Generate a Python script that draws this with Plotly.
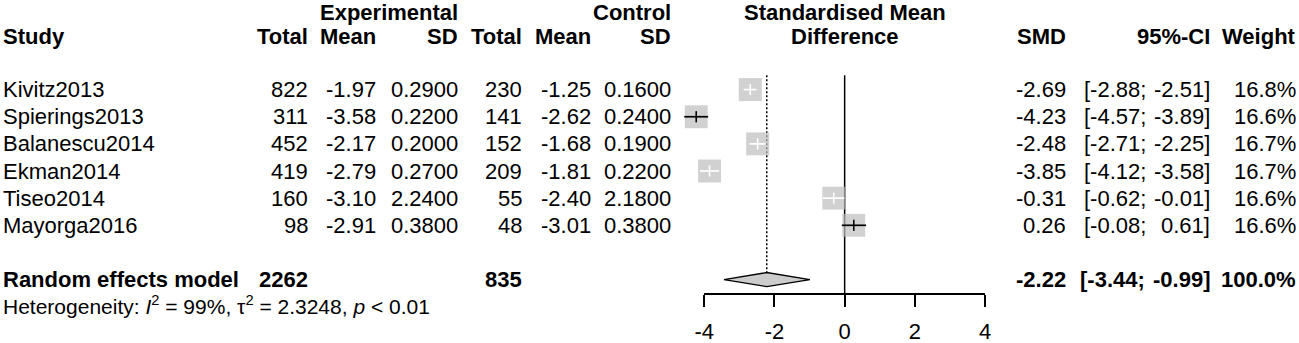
import plotly.graph_objects as go

# ---------------- data ----------------
studies = ["Kivitz2013", "Spierings2013", "Balanescu2014", "Ekman2014", "Tiseo2014", "Mayorga2016"]
exp_total = [822, 311, 452, 419, 160, 98]
exp_mean = [-1.97, -3.58, -2.17, -2.79, -3.10, -2.91]
exp_sd = [0.29, 0.22, 0.20, 0.27, 2.24, 0.38]
ctl_total = [230, 141, 152, 209, 55, 48]
ctl_mean = [-1.25, -2.62, -1.68, -1.81, -2.40, -3.01]
ctl_sd = [0.16, 0.24, 0.19, 0.22, 2.18, 0.38]
smd = [-2.69, -4.23, -2.48, -3.85, -0.31, 0.26]
ci_lo = [-2.88, -4.57, -2.71, -4.12, -0.62, -0.08]
ci_hi = [-2.51, -3.89, -2.25, -3.58, -0.01, 0.61]
weight = [16.8, 16.6, 16.7, 16.7, 16.6, 16.6]

pooled_label = "Random effects model"
pooled_exp_total = 2262
pooled_ctl_total = 835
pooled_smd = -2.22
pooled_lo = -3.44
pooled_hi = -0.99
pooled_weight = 100.0
het_i2 = "99%"
het_tau2 = "2.3248"
het_p = "&lt; 0.01"

axis_ticks = [-4, -2, 0, 2, 4]

# ---------------- layout geometry ----------------
W, H = 1299, 343
AX_L_PX, AX_R_PX = 704.3, 985.0
AX_MIN, AX_MAX = axis_ticks[0], axis_ticks[-1]
ppu = (AX_R_PX - AX_L_PX) / (AX_MAX - AX_MIN)
x_full = [AX_MIN - AX_L_PX / ppu, AX_MAX + (W - AX_R_PX) / ppu]

ROW1_PX, ROW_PX = 89.6, 27.14
y_range = [1 + (H - ROW1_PX) / ROW_PX, 1 - ROW1_PX / ROW_PX]
rows = [i + 1 for i in range(len(studies))]
ROW_POOL = len(studies) + 2
ROW_HET = ROW_POOL + 0.95
ROW_AXIS = ROW_POOL + 0.53
ROW_TOP = 0.47
ROW_H1, ROW_H2 = -1.85, -0.95
axis_pos = 1 - (ROW1_PX + (ROW_AXIS - 1) * ROW_PX) / H

FONT = "Liberation Sans, Arial, sans-serif"
FS = 22
BOX = 23
DIAM_H = 0.26

fig = go.Figure()

# reference lines
fig.add_trace(go.Scatter(x=[0, 0], y=[ROW_TOP, ROW_AXIS], mode="lines",
                         line=dict(color="black", width=1.5), hoverinfo="skip"))
fig.add_trace(go.Scatter(x=[pooled_smd, pooled_smd], y=[ROW_TOP, ROW_POOL - DIAM_H], mode="lines",
                         line=dict(color="black", width=1.5, dash="2px,2px"), hoverinfo="skip"))

# boxes
fig.add_trace(go.Scatter(x=smd, y=rows, mode="markers",
                         marker=dict(symbol="square", size=[BOX * (w / max(weight)) ** 0.5 for w in weight],
                                     color="#BDBDBD", line=dict(width=0)),
                         hoverinfo="skip"))

# CI lines + centre ticks
for e, lo, hi, r in zip(smd, ci_lo, ci_hi, rows):
    col = "white" if (hi - lo) < 22 / ppu else "black"
    fig.add_trace(go.Scatter(x=[lo, hi], y=[r, r], mode="lines",
                             line=dict(color=col, width=1.7), hoverinfo="skip"))
    fig.add_trace(go.Scatter(x=[e], y=[r], mode="markers",
                             marker=dict(symbol="line-ns", size=8, line=dict(color=col, width=1.6)),
                             hoverinfo="skip"))

# diamond
fig.add_trace(go.Scatter(x=[pooled_lo, pooled_smd, pooled_hi, pooled_smd, pooled_lo],
                         y=[ROW_POOL, ROW_POOL - DIAM_H, ROW_POOL, ROW_POOL + DIAM_H, ROW_POOL],
                         mode="lines", fill="toself", fillcolor="#CCCCCC",
                         line=dict(color="black", width=1.3), hoverinfo="skip"))

# dummy trace for visible axis
fig.add_trace(go.Scatter(x=[AX_MIN, AX_MAX], y=[ROW_AXIS, ROW_AXIS], xaxis="x2", yaxis="y",
                         mode="markers", marker=dict(opacity=0), hoverinfo="skip"))

# ---------------- text ----------------
anns = []


def px(xp):
    return xp / W


def txt(text, xpx, row, anchor="right", bold=False, size=FS, xref="paper"):
    t = f"<b>{text}</b>" if bold else text
    anns.append(dict(text=t, x=px(xpx) if xref == "paper" else xpx, y=row, xref=xref, yref="y",
                     xanchor=anchor, yanchor="middle", showarrow=False,
                     font=dict(family=FONT, size=size, color="black")))


C_STUDY = 1
C_ET, C_EM, C_ESD = 310, 378, 460
C_CT, C_CM, C_CSD = 524, 593, 673
C_SMD, C_CIL, C_CIR, C_W = 1068, 1082, 1212, 1298

# headers
txt("Experimental", C_ESD, ROW_H1, bold=True)
txt("Control", C_CSD, ROW_H1, bold=True)
txt("Standardised Mean", 0, ROW_H1, anchor="center", bold=True, xref="x")
txt("Study", C_STUDY, ROW_H2, anchor="left", bold=True)
for label, c in [("Total", C_ET), ("Mean", C_EM), ("SD", C_ESD), ("Total", C_CT), ("Mean", C_CM),
                 ("SD", C_CSD), ("SMD", C_SMD), ("95%-CI", C_CIR), ("Weight", C_W)]:
    txt(label, c, ROW_H2, bold=True)
txt("Difference", 0, ROW_H2, anchor="center", bold=True, xref="x")

for i, r in enumerate(rows):
    txt(studies[i], C_STUDY, r, anchor="left")
    txt(f"{exp_total[i]}", C_ET, r)
    txt(f"{exp_mean[i]:.2f}", C_EM, r)
    txt(f"{exp_sd[i]:.4f}", C_ESD, r)
    txt(f"{ctl_total[i]}", C_CT, r)
    txt(f"{ctl_mean[i]:.2f}", C_CM, r)
    txt(f"{ctl_sd[i]:.4f}", C_CSD, r)
    txt(f"{smd[i]:.2f}", C_SMD, r)
    txt(f"[{ci_lo[i]:.2f};", C_CIL, r, anchor="left")
    txt(f"{ci_hi[i]:.2f}]", C_CIR, r)
    txt(f"{weight[i]:.1f}%", C_W, r)

txt(pooled_label, C_STUDY, ROW_POOL, anchor="left", bold=True)
txt(f"{pooled_exp_total}", C_ET, ROW_POOL, bold=True)
txt(f"{pooled_ctl_total}", C_CT, ROW_POOL, bold=True)
txt(f"{pooled_smd:.2f}", C_SMD, ROW_POOL, bold=True)
txt(f"[{pooled_lo:.2f};", C_CIL - 4, ROW_POOL, anchor="left", bold=True)
txt(f"{pooled_hi:.2f}]", C_CIR, ROW_POOL, bold=True)
txt(f"{pooled_weight:.1f}%", C_W, ROW_POOL, bold=True)

txt(f"Heterogeneity: <i>I</i><sup>2</sup> = {het_i2}, τ<sup>2</sup> = {het_tau2}, <i>p</i> {het_p}",
    C_STUDY, ROW_HET, anchor="left", size=21)

fig.update_layout(
    width=W, height=H, margin=dict(l=0, r=0, t=0, b=0, autoexpand=False),
    paper_bgcolor="white", plot_bgcolor="rgba(0,0,0,0)", showlegend=False,
    annotations=anns,
    xaxis=dict(domain=[0, 1], range=x_full, visible=False, fixedrange=True),
    xaxis2=dict(domain=[AX_L_PX / W, AX_R_PX / W], range=[AX_MIN, AX_MAX], anchor="free",
                position=axis_pos, showline=True, linecolor="black", linewidth=1.5,
                ticks="outside", ticklen=12, tickwidth=1.5, tickcolor="black",
                tickvals=axis_ticks, ticktext=[str(t) for t in axis_ticks],
                ticklabelstandoff=6,
                tickfont=dict(family=FONT, size=FS, color="black"),
                showgrid=False, zeroline=False, fixedrange=True),
    yaxis=dict(domain=[0, 1], range=y_range, visible=False, fixedrange=True),
)

fig.write_html("out.html", config={"displayModeBar": False},
               post_script="document.body.style.margin='0';document.body.style.overflow='hidden';")
